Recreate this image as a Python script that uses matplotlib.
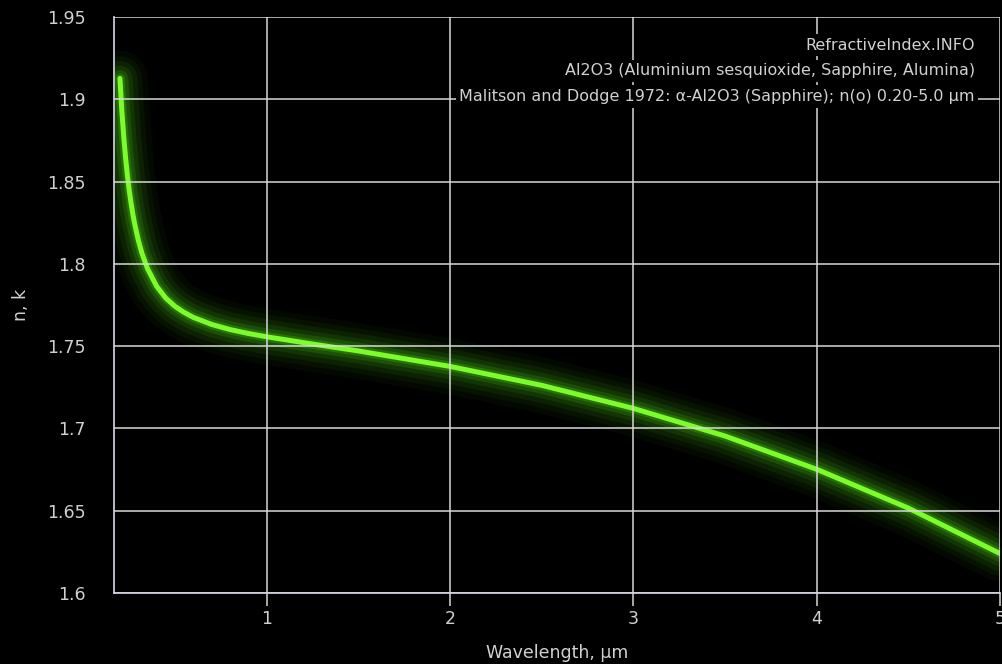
import matplotlib
matplotlib.use('Agg')
import matplotlib.pyplot as plt

# values (n of sapphire, ordinary ray)
wavelength = [0.20, 0.21, 0.22, 0.23, 0.24, 0.25, 0.26, 0.27, 0.28, 0.30, 0.32,
              0.35, 0.40, 0.45, 0.50, 0.55, 0.60, 0.70, 0.80, 0.90, 1.0, 1.25,
              1.5, 2.0, 2.5, 3.0, 3.5, 4.0, 4.5, 5.0]
n_values = [1.9127, 1.8937, 1.8782, 1.8653, 1.8545, 1.8452, 1.8373, 1.8304, 1.8244,
            1.8144, 1.8064, 1.7972, 1.7864, 1.7792, 1.7742, 1.7705, 1.7675, 1.7632,
            1.7601, 1.7577, 1.7557, 1.7513, 1.7471, 1.7377, 1.7262, 1.7122, 1.6954,
            1.6752, 1.6516, 1.6240]

x_ticks = [1, 2, 3, 4, 5]
y_ticks = [1.6, 1.65, 1.7, 1.75, 1.8, 1.85, 1.9, 1.95]
y_tick_labels = ['1.6', '1.65', '1.7', '1.75', '1.8', '1.85', '1.9', '1.95']
info_lines = ['RefractiveIndex.INFO',
              'Al2O3 (Aluminium sesquioxide, Sapphire, Alumina)',
              'Malitson and Dodge 1972: α-Al2O3 (Sapphire); n(o) 0.20-5.0 µm']

text_col = '#d0d0d0'
green = '#7dfc2c'

fig = plt.figure(figsize=(10.02, 6.64), dpi=100, facecolor='black')
ax = fig.add_axes([0.1133, 0.1069, 0.8847, 0.8675], facecolor='black')

# glow around the curve
for lw, a in [(40, 0.05), (32, 0.07), (25, 0.1), (18, 0.14), (12, 0.22), (7, 0.35)]:
    ax.plot(wavelength, n_values, color='#3fae12', lw=lw, alpha=a,
            solid_capstyle='round', solid_joinstyle='round', zorder=1)
ax.plot(wavelength, n_values, color=green, lw=3.6,
        solid_capstyle='round', solid_joinstyle='round', zorder=2)

ax.set_xlim(0.165, 5.0)
ax.set_ylim(1.6, 1.95)
ax.set_xticks(x_ticks)
ax.set_yticks(y_ticks)
ax.set_yticklabels(y_tick_labels)
ax.grid(True, color='#d8d8d8', lw=1.1)
ax.set_axisbelow(False)

for side in ['top', 'right']:
    ax.spines[side].set_visible(False)
for side in ['left', 'bottom']:
    ax.spines[side].set_color('#c8c8dc')
    ax.spines[side].set_linewidth(1.3)

ax.tick_params(axis='x', colors='#d8d8d8', labelcolor=text_col, length=9,
               width=1.1, pad=3, labelsize=12.5)
ax.tick_params(axis='y', length=0, pad=20, labelcolor=text_col, labelsize=12.5)

ax.set_xlabel('Wavelength, µm', color=text_col, fontsize=12.5, labelpad=12)
ax.set_ylabel('n, k', color=text_col, fontsize=12.5, labelpad=12)

# info block in the upper right corner
for i, line in enumerate(info_lines):
    ax.text(0.9715, 0.951 - i * 0.0445, line, transform=ax.transAxes,
            ha='right', va='center', color=text_col, fontsize=11.5,
            bbox=dict(facecolor='black', edgecolor='none', pad=2.5), zorder=5)

fig.savefig('out.png', dpi=100, facecolor='black')
